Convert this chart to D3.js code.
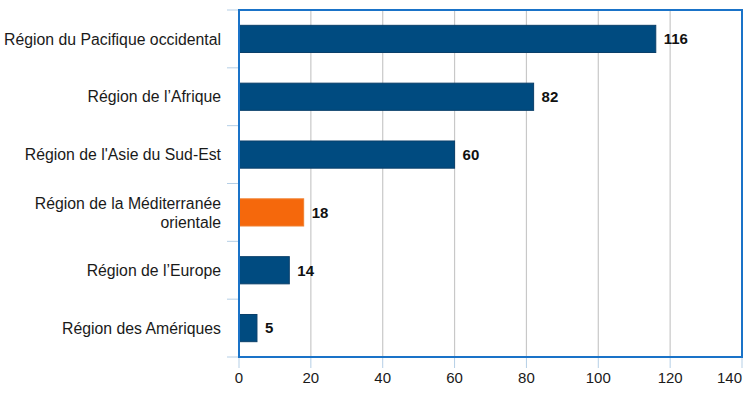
<!DOCTYPE html>
<html>
<head>
<meta charset="utf-8">
<script src="https://cdn.jsdelivr.net/npm/d3@7"></script>
<style>
  body { margin: 0; background: #fff; }
  text { font-family: "Liberation Sans", Arial, sans-serif; }
</style>
</head>
<body>
<div id="chart"></div>
<script>
// data
const regions = [
  "Région du Pacifique occidental",
  "Région de l’Afrique",
  "Région de l'Asie du Sud-Est",
  "Région de la Méditerranée orientale",
  "Région de l’Europe",
  "Région des Amériques"
];
const values = [116, 82, 60, 18, 14, 5];
const highlight = "Région de la Méditerranée orientale";
const xTicks = [0, 20, 40, 60, 80, 100, 120, 140];

const width = 750, height = 396;
const margin = {top: 10, right: 8, bottom: 39, left: 239};

const svg = d3.select("#chart").append("svg").attr("width", width).attr("height", height);

const x = d3.scaleLinear().domain([0, 140]).range([margin.left, width - margin.right]);
const y = d3.scaleBand().domain(regions).range([margin.top, height - margin.bottom])
  .paddingInner(0.53).paddingOuter(0.265);

// gridlines
svg.append("g").selectAll("line").data(xTicks.slice(1)).enter().append("line")
  .attr("x1", d => x(d)).attr("x2", d => x(d))
  .attr("y1", margin.top).attr("y2", height - margin.bottom)
  .attr("stroke", "#c8c8c8").attr("stroke-width", 1.2);

// category boundary ticks on the left
const bounds = d3.range(regions.length + 1).map(i => margin.top + i * (height - margin.top - margin.bottom) / regions.length);
svg.append("g").selectAll("line").data(bounds).enter().append("line")
  .attr("x1", margin.left - 12).attr("x2", margin.left)
  .attr("y1", d => d).attr("y2", d => d)
  .attr("stroke", "#b5cfe6").attr("stroke-width", 1);

// ticks below the x axis
svg.append("g").selectAll("line").data(xTicks).enter().append("line")
  .attr("x1", d => x(d)).attr("x2", d => x(d))
  .attr("y1", height - margin.bottom).attr("y2", height - margin.bottom + 11)
  .attr("stroke", "#b5cfe6").attr("stroke-width", 1);

// bars
const rows = regions.map((r, i) => ({region: r, value: values[i]}));
svg.append("g").selectAll("rect").data(rows).enter().append("rect")
  .attr("x", x(0)).attr("y", d => y(d.region))
  .attr("width", d => x(d.value) - x(0)).attr("height", y.bandwidth())
  .attr("fill", d => d.region === highlight ? "#f5680c" : "#004b80")
  .attr("stroke", d => d.region === highlight ? "#f08030" : "#0a3f6a")
  .attr("stroke-width", 1);

// value labels
svg.append("g").selectAll("text").data(rows).enter().append("text")
  .attr("x", d => x(d.value) + 8).attr("y", d => y(d.region) + y.bandwidth() / 2)
  .attr("dy", "0.36em").attr("font-size", 15).attr("font-weight", "bold").attr("fill", "#111")
  .text(d => d.value);

// category labels (wrapped where the picture wraps)
const labelLines = {
  "Région de la Méditerranée orientale": ["Région de la Méditerranée", "orientale"]
};
const lab = svg.append("g").selectAll("text").data(regions).enter().append("text")
  .attr("text-anchor", "end").attr("font-size", 15.8).attr("fill", "#1a1a1a")
  .attr("x", margin.left - 18)
  .attr("y", d => y(d) + y.bandwidth() / 2);
lab.each(function(d) {
  const lines = labelLines[d] || [d];
  const t = d3.select(this);
  lines.forEach((l, i) => {
    t.append("tspan").attr("x", margin.left - 18)
      .attr("dy", i === 0 ? (0.36 - (lines.length - 1) * 0.6) + "em" : "1.2em")
      .text(l);
  });
});

// x tick labels (the last one is pulled inside the right edge)
svg.append("g").selectAll("text").data(xTicks).enter().append("text")
  .attr("x", d => x(d)).attr("y", height - margin.bottom + 26)
  .attr("text-anchor", (d, i) => i === xTicks.length - 1 ? "end" : "middle")
  .attr("font-size", 15).attr("fill", "#1a1a1a")
  .text(d => d);

// plot frame
svg.append("rect")
  .attr("x", margin.left).attr("y", margin.top)
  .attr("width", x(140) - margin.left).attr("height", height - margin.top - margin.bottom)
  .attr("fill", "none").attr("stroke", "#1a73c8").attr("stroke-width", 2);
</script>
</body>
</html>
